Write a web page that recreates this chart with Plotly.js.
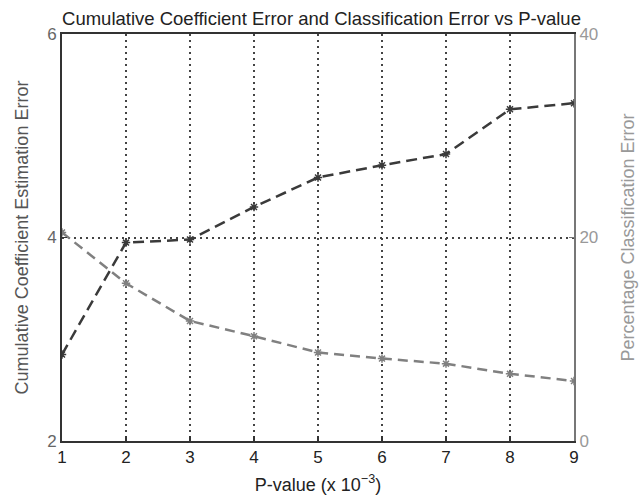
<!DOCTYPE html>
<html>
<head>
<meta charset="utf-8">
<script src="https://cdn.plot.ly/plotly-3.0.1.min.js"></script>
<style>html,body{margin:0;padding:0;background:#fff;}#chart{width:643px;height:498px;}</style>
</head>
<body>
<div id="chart"></div>
<script>
const pValues = [1, 2, 3, 4, 5, 6, 7, 8, 9];
const coefError = [2.85, 3.95, 3.98, 4.30, 4.59, 4.71, 4.82, 5.26, 5.32];
const classError = [20.5, 15.5, 11.8, 10.3, 8.7, 8.1, 7.6, 6.6, 5.9];
const xTicks = [1, 2, 3, 4, 5, 6, 7, 8, 9];
const yLeftTicks = [2, 4, 6];
const yRightTicks = [0, 20, 40];

const FONT = 'Liberation Sans, Arial, sans-serif';

const traces = [
  {
    x: pValues, y: coefError, type: 'scatter', mode: 'lines+markers',
    name: 'Cumulative Coefficient Estimation Error',
    line: {color: '#3a3a3a', width: 2.5, dash: '11px,6px'},
    marker: {symbol: 'asterisk-open', size: 7, color: '#3a3a3a', line: {color: '#3a3a3a', width: 1.5}},
    yaxis: 'y'
  },
  {
    x: pValues, y: classError, type: 'scatter', mode: 'lines+markers',
    name: 'Percentage Classification Error',
    line: {color: '#808080', width: 2.5, dash: '10px,6px'},
    marker: {symbol: 'asterisk-open', size: 7, color: '#808080', line: {color: '#808080', width: 1.5}},
    yaxis: 'y2'
  }
];

const layout = {
  width: 643, height: 498,
  margin: {l: 62, r: 69, t: 34, b: 57, pad: 0},
  paper_bgcolor: '#fff', plot_bgcolor: '#fff',
  showlegend: false,
  font: {family: FONT, size: 17, color: '#222'},
  title: {text: 'Cumulative Coefficient Error and Classification Error vs P-value',
          font: {family: FONT, size: 18.5, color: '#222'}, x: 0.5, xanchor: 'center', y: 0.963, yanchor: 'middle'},
  xaxis: {
    range: [1, 9], tickvals: xTicks, ticktext: xTicks.map(String),
    showline: true, linecolor: '#333', linewidth: 2, mirror: true,
    ticks: 'inside', ticklen: 5, tickcolor: '#333', tickwidth: 1.5,
    showgrid: true, gridcolor: '#444', gridwidth: 2, griddash: '2px,4px',
    zeroline: false, tickfont: {family: FONT, size: 17, color: '#222'},
    title: {text: 'P-value (x 10<sup>\u22123</sup>)', font: {family: FONT, size: 18, color: '#222'}, standoff: 12}
  },
  yaxis: {
    range: [2, 6], tickvals: yLeftTicks, ticktext: yLeftTicks.map(String),
    showline: true, linecolor: '#333', linewidth: 2,
    ticks: 'inside', ticklen: 5, tickcolor: '#333', tickwidth: 1.5,
    showgrid: true, gridcolor: '#444', gridwidth: 2, griddash: '2px,4px',
    zeroline: false, tickfont: {family: FONT, size: 17, color: '#666'},
    title: {text: 'Cumulative Coefficient Estimation Error', font: {family: FONT, size: 18, color: '#555'}, standoff: 14}
  },
  yaxis2: {
    range: [0, 40], tickvals: yRightTicks, ticktext: yRightTicks.map(String),
    overlaying: 'y', side: 'right',
    showline: true, linecolor: '#777', linewidth: 2,
    ticks: 'inside', ticklen: 5, tickcolor: '#777', tickwidth: 1.5,
    showgrid: false, zeroline: false,
    tickfont: {family: FONT, size: 17, color: '#999'},
    title: {text: 'Percentage Classification Error', font: {family: FONT, size: 18, color: '#999'}, standoff: 24}
  }
};

Plotly.newPlot('chart', traces, layout, {displayModeBar: false, staticPlot: true});
</script>
</body>
</html>
